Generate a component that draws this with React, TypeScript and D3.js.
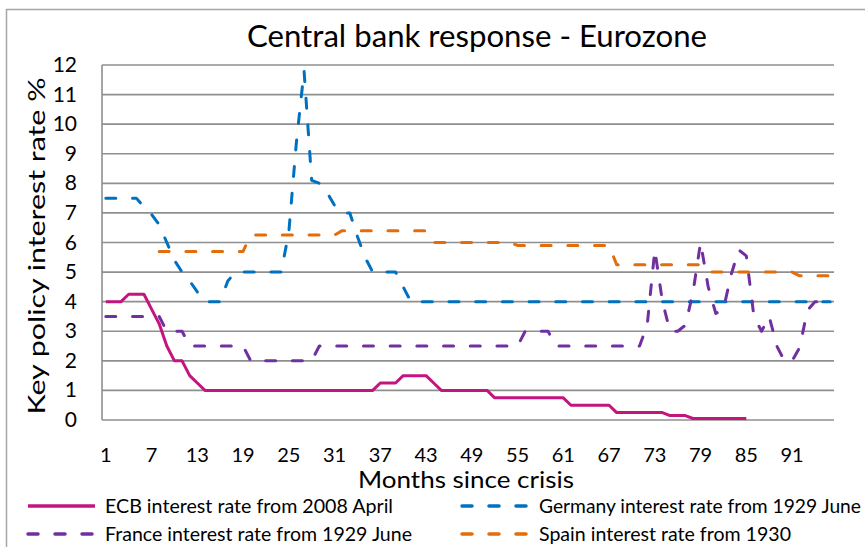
import * as d3 from "d3";

// months since crisis (category axis)
const months = d3.range(1, 97);
const xTickLabels = [1, 7, 13, 19, 25, 31, 37, 43, 49, 55, 61, 67, 73, 79, 85, 91];
const yTickValues = [0, 1, 2, 3, 4, 5, 6, 7, 8, 9, 10, 11, 12];

// values, one per month (null = no data)
const ecb = [
  4, 4, 4, 4.25, 4.25, 4.25, 3.75, 3.25, 2.5, 2, 2, 1.5, 1.25, 1, 1, 1, 1, 1, 1, 1,
  1, 1, 1, 1, 1, 1, 1, 1, 1, 1, 1, 1, 1, 1, 1, 1, 1.25, 1.25, 1.25, 1.5,
  1.5, 1.5, 1.5, 1.25, 1, 1, 1, 1, 1, 1, 1, 0.75, 0.75, 0.75, 0.75, 0.75, 0.75, 0.75, 0.75, 0.75,
  0.75, 0.5, 0.5, 0.5, 0.5, 0.5, 0.5, 0.25, 0.25, 0.25, 0.25, 0.25, 0.25, 0.25, 0.15, 0.15, 0.15, 0.05, 0.05, 0.05,
  0.05, 0.05, 0.05, 0.05, 0.05, null, null, null, null, null, null, null, null, null, null, null,
];
const germany = [
  7.5, 7.5, 7.5, 7.5, 7.5, 7.2, 6.95, 6.6, 6.0, 5.4, 5.0, 4.7, 4.33, 4, 4, 4, 4.7, 5, 5, 5,
  5, 5, 5, 5, 6.35, 9.4, 11.8, 8.1, 8.0, 7.7, 7.25, 7.0, 7.0, 6.2, 5.5, 5, 5, 5, 5, 4.5,
  4, 4, 4, 4, 4, 4, 4, 4, 4, 4, 4, 4, 4, 4, 4, 4, 4, 4, 4, 4,
  4, 4, 4, 4, 4, 4, 4, 4, 4, 4, 4, 4, 4, 4, 4, 4, 4, 4, 4, 4,
  4, 4, 4, 4, 4, 4, 4, 4, 4, 4, 4, 4, 4, 4, 4, 4,
];
const france = [
  3.5, 3.5, 3.5, 3.5, 3.5, 3.5, 3.5, 3.5, 3, 3, 3, 2.5, 2.5, 2.5, 2.5, 2.5, 2.5, 2.5, 2.5, 2,
  2, 2, 2, 2, 2, 2, 2, 2, 2.5, 2.5, 2.5, 2.5, 2.5, 2.5, 2.5, 2.5, 2.5, 2.5, 2.5, 2.5,
  2.5, 2.5, 2.5, 2.5, 2.5, 2.5, 2.5, 2.5, 2.5, 2.5, 2.5, 2.5, 2.5, 2.5, 2.5, 3, 3, 3, 3, 2.5,
  2.5, 2.5, 2.5, 2.5, 2.5, 2.5, 2.5, 2.5, 2.5, 2.5, 2.5, 3.2, 5.75, 4.0, 3.0, 3.0, 3.2, 4.3, 6.0, 4.5,
  3.6, 3.75, 4.9, 5.75, 5.55, 3.5, 3.0, 3.5, 2.5, 2.0, 2.0, 2.45, 3.7, 4, 4, 4,
];
const spain = [
  null, null, null, null, null, null, null, 5.7, 5.7, 5.7, 5.7, 5.7, 5.7, 5.7, 5.7, 5.7, 5.7, 5.7, 5.7, 6.25,
  6.25, 6.25, 6.25, 6.25, 6.25, 6.25, 6.25, 6.25, 6.25, 6.25, 6.25, 6.4, 6.4, 6.4, 6.4, 6.4, 6.4, 6.4, 6.4, 6.4,
  6.4, 6.4, 6.4, 6, 6, 6, 6, 6, 6, 6, 6, 6, 6, 6, 5.9, 5.9, 5.9, 5.9, 5.9, 5.9,
  5.9, 5.9, 5.9, 5.9, 5.9, 5.9, 5.9, 5.25, 5.25, 5.25, 5.25, 5.25, 5.25, 5.25, 5.25, 5.25, 5.25, 5.25, 5.25, 5,
  5, 5, 5, 5, 5, 5, 5, 5, 5, 5, 5, 4.875, 4.875, 4.875, 4.875, 4.875,
];

const series = [
  { name: "ECB interest rate from 2008 April", values: ecb, color: "#c4157f", dash: null },
  { name: "Germany interest rate from 1929 June", values: germany, color: "#0070c0", dash: "10,16.7" },
  { name: "France interest rate from 1929 June", values: france, color: "#7030a0", dash: "10,16.7" },
  { name: "Spain interest rate from 1930", values: spain, color: "#e46c0a", dash: "10,16.7" },
];

const W = 865;
const H = 547;
const font = "Lato, 'Open Sans', sans-serif";

export default function App() {
  const x = d3.scalePoint<number>().domain(months).range([102, 834]).padding(0.5);
  const y = d3.scaleLinear().domain([0, 12]).range([420, 65]);

  const line = d3
    .line<number | null>()
    .defined((d) => d !== null)
    .x((_, i) => x(months[i]) as number)
    .y((d) => y(d as number));

  // legend placement
  const legend = [
    { s: series[0], lx: 28, ly: 506, tx: 105, len: 288 },
    { s: series[1], lx: 462, ly: 506, tx: 539, len: 322 },
    { s: series[2], lx: 28, ly: 534, tx: 105, len: 307 },
    { s: series[3], lx: 462, ly: 534, tx: 539, len: 252 },
  ];

  return (
    <svg
      width={W}
      height={H}
      style={{ position: "absolute", left: 0, top: 0, background: "#fff" }}
      fontFamily={font}
    >
      <rect x={6.5} y={9.5} width={W + 10} height={H + 10} fill="#fff" stroke="#a6a6a6" strokeWidth={1.5} />

      <text x={477} y={47} textAnchor="middle" fontSize={31} textLength={460} lengthAdjust="spacingAndGlyphs">
        Central bank response - Eurozone
      </text>

      {/* gridlines */}
      {yTickValues.map((v) => (
        <line key={v} x1={102} x2={834} y1={y(v)} y2={y(v)} stroke="#8f8f8f" strokeWidth={1.6} />
      ))}
      <line x1={102} x2={102} y1={65} y2={420} stroke="#8f8f8f" strokeWidth={1.6} />

      {/* y tick labels */}
      {yTickValues.map((v) => (
        <text key={v} x={77} y={y(v) + 7} textAnchor="end" fontSize={21}>
          {v}
        </text>
      ))}

      {/* x tick labels */}
      {xTickLabels.map((m) => (
        <text key={m} x={x(m)} y={462} textAnchor="middle" fontSize={20}>
          {m}
        </text>
      ))}

      <text x={466} y={488} textAnchor="middle" fontSize={23} textLength={216} lengthAdjust="spacingAndGlyphs">
        Months since crisis
      </text>
      <text
        transform="translate(45,246) rotate(-90)"
        textAnchor="middle"
        fontSize={24}
        textLength={337}
        lengthAdjust="spacingAndGlyphs"
      >
        Key policy interest rate %
      </text>

      {/* series */}
      {series.map((s) => (
        <path
          key={s.name}
          d={line(s.values) || ""}
          fill="none"
          stroke={s.color}
          strokeWidth={3}
          strokeLinejoin="round"
          strokeLinecap={s.dash ? "round" : "butt"}
          strokeDasharray={s.dash || undefined}
        />
      ))}

      {/* legend */}
      {legend.map((l) => (
        <g key={l.s.name}>
          <line
            x1={l.lx}
            x2={l.lx + 67}
            y1={l.ly}
            y2={l.ly}
            stroke={l.s.color}
            strokeWidth={3.5}
            strokeLinecap={l.s.dash ? "round" : "butt"}
            strokeDasharray={l.s.dash ? "10,17" : undefined}
          />
          <text x={l.tx} y={l.ly + 7} fontSize={19} textLength={l.len} lengthAdjust="spacingAndGlyphs">
            {l.s.name}
          </text>
        </g>
      ))}
    </svg>
  );
}
